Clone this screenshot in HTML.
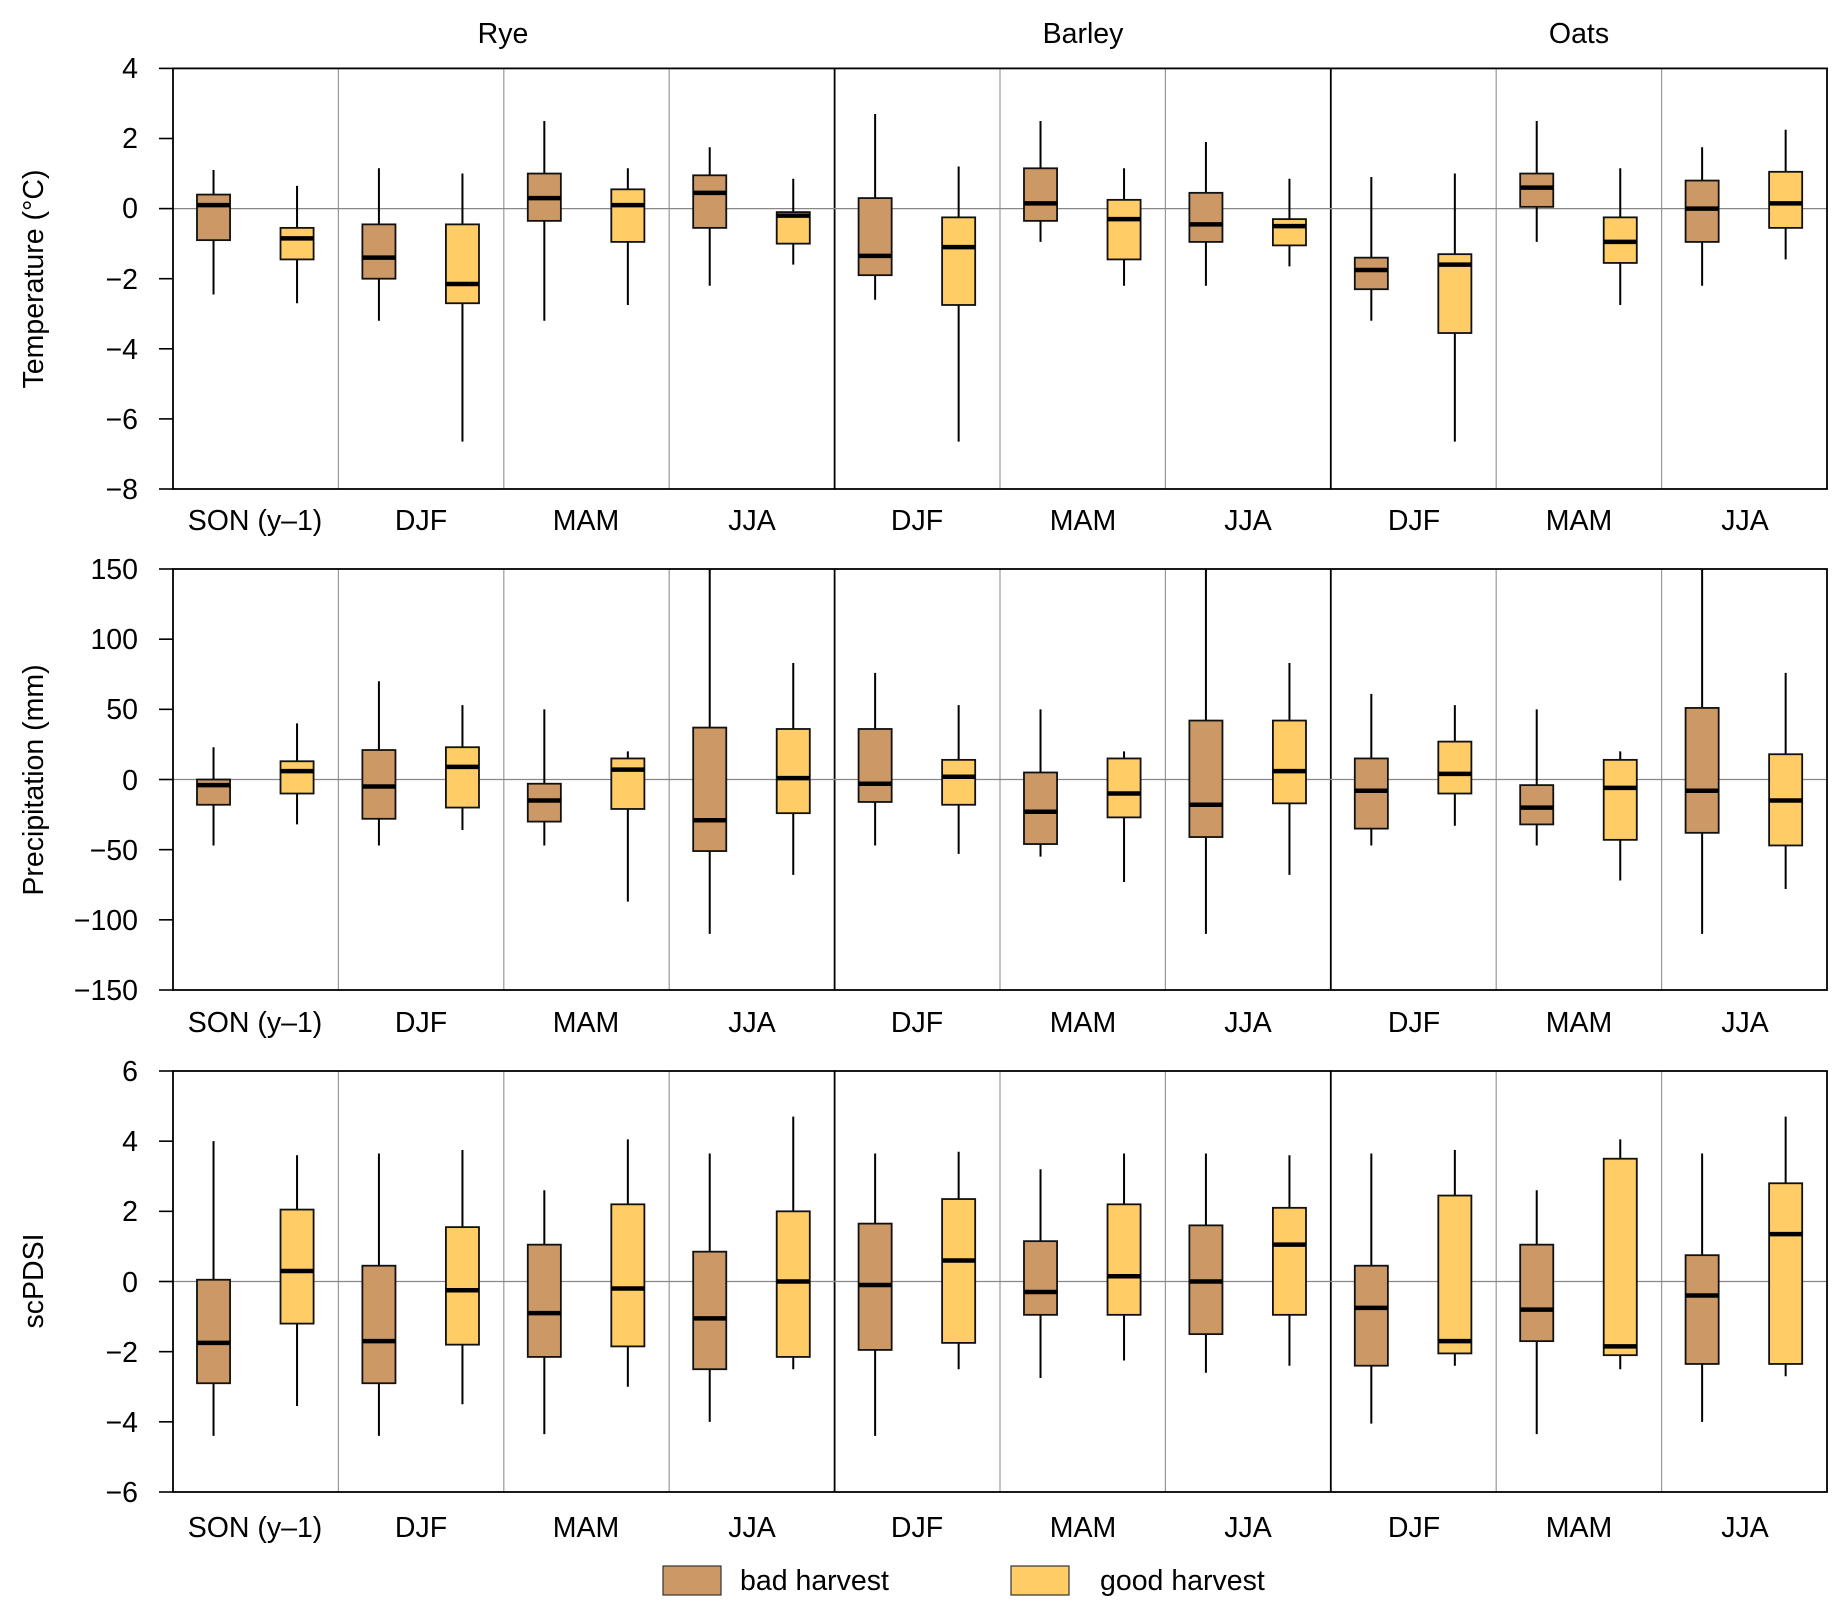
<!DOCTYPE html>
<html><head><meta charset="utf-8"><style>
html,body{margin:0;padding:0;background:#fff;}
svg text{font-family:"Liberation Sans",sans-serif;font-size:28.5px;fill:#000;}
</style></head><body>
<svg id="s" width="1848" height="1616" viewBox="0 0 1848 1616" xmlns="http://www.w3.org/2000/svg">
<g id="g"></g>
<text x="503" y="43" text-anchor="middle">Rye</text>
<text x="1083" y="43" text-anchor="middle">Barley</text>
<text x="1579" y="43" text-anchor="middle">Oats</text>
<g text-anchor="end">
<text x="138" y="78">4</text><text x="138" y="148">2</text><text x="138" y="218">0</text><text x="138" y="289">−2</text><text x="138" y="359">−4</text><text x="138" y="429">−6</text><text x="138" y="499">−8</text>
<text x="138" y="579">150</text><text x="138" y="649">100</text><text x="138" y="719">50</text><text x="138" y="790">0</text><text x="138" y="860">−50</text><text x="138" y="930">−100</text><text x="138" y="1000">−150</text>
<text x="138" y="1081">6</text><text x="138" y="1151">4</text><text x="138" y="1221">2</text><text x="138" y="1292">0</text><text x="138" y="1362">−2</text><text x="138" y="1432">−4</text><text x="138" y="1502">−6</text>
</g>
<text transform="translate(43,279) rotate(-90)" text-anchor="middle" font-size="30">Temperature (°C)</text>
<text transform="translate(43,780) rotate(-90)" text-anchor="middle" font-size="30">Precipitation (mm)</text>
<text transform="translate(43,1281) rotate(-90)" text-anchor="middle" font-size="30">scPDSI</text>
<g text-anchor="middle">
<text x="255" y="530">SON (y–1)</text><text x="421" y="530">DJF</text><text x="586" y="530">MAM</text><text x="752" y="530">JJA</text><text x="917" y="530">DJF</text><text x="1083" y="530">MAM</text><text x="1248" y="530">JJA</text><text x="1414" y="530">DJF</text><text x="1579" y="530">MAM</text><text x="1745" y="530">JJA</text>
<text x="255" y="1032">SON (y–1)</text><text x="421" y="1032">DJF</text><text x="586" y="1032">MAM</text><text x="752" y="1032">JJA</text><text x="917" y="1032">DJF</text><text x="1083" y="1032">MAM</text><text x="1248" y="1032">JJA</text><text x="1414" y="1032">DJF</text><text x="1579" y="1032">MAM</text><text x="1745" y="1032">JJA</text>
<text x="255" y="1537">SON (y–1)</text><text x="421" y="1537">DJF</text><text x="586" y="1537">MAM</text><text x="752" y="1537">JJA</text><text x="917" y="1537">DJF</text><text x="1083" y="1537">MAM</text><text x="1248" y="1537">JJA</text><text x="1414" y="1537">DJF</text><text x="1579" y="1537">MAM</text><text x="1745" y="1537">JJA</text>
</g>
<rect x="663" y="1566" width="58" height="29" fill="#cc9966" stroke="#333" stroke-width="1.2"/>
<text x="740" y="1590">bad harvest</text>
<rect x="1011" y="1566" width="58" height="29" fill="#ffcc66" stroke="#333" stroke-width="1.2"/>
<text x="1100" y="1590">good harvest</text>
</svg>
<script>
var g=document.getElementById('g'),NS='http://www.w3.org/2000/svg';
function el(t,a){var e=document.createElementNS(NS,t);for(var k in a)e.setAttribute(k,a[k]);g.appendChild(e);return e;}
var L=173,R=1827,W=(R-L)/10;
var panels=[
{top:68.4,bot:489,max:4,min:-8,ticks:[4,2,0,-2,-4,-6,-8],d:[
[[1.1,0.4,0.1,-0.9,-2.45],[0.65,-0.55,-0.85,-1.45,-2.7]],
[[1.15,-0.45,-1.4,-2.0,-3.2],[1.0,-0.45,-2.15,-2.7,-6.65]],
[[2.5,1.0,0.3,-0.35,-3.2],[1.15,0.55,0.1,-0.95,-2.75]],
[[1.75,0.95,0.45,-0.55,-2.2],[0.85,-0.1,-0.2,-1.0,-1.6]],
[[2.7,0.3,-1.35,-1.9,-2.6],[1.2,-0.25,-1.1,-2.75,-6.65]],
[[2.5,1.15,0.15,-0.35,-0.95],[1.15,0.25,-0.3,-1.45,-2.2]],
[[1.9,0.45,-0.45,-0.95,-2.2],[0.85,-0.3,-0.5,-1.05,-1.65]],
[[0.9,-1.4,-1.75,-2.3,-3.2],[1.0,-1.3,-1.6,-3.55,-6.65]],
[[2.5,1.0,0.6,0.05,-0.95],[1.15,-0.25,-0.95,-1.55,-2.75]],
[[1.75,0.8,0.0,-0.95,-2.2],[2.25,1.05,0.15,-0.55,-1.45]]]},
{top:569,bot:990,max:150,min:-150,ticks:[150,100,50,0,-50,-100,-150],d:[
[[23,0,-4,-18,-47],[40,13,6,-10,-32]],
[[70,21,-5,-28,-47],[53,23,9,-20,-36]],
[[50,-3,-15,-30,-47],[20,15,7,-21,-87]],
[[150,37,-29,-51,-110],[83,36,1,-24,-68]],
[[76,36,-3,-16,-47],[53,14,2,-18,-53]],
[[50,5,-23,-46,-55],[20,15,-10,-27,-73]],
[[150,42,-18,-41,-110],[83,42,6,-17,-68]],
[[61,15,-8,-35,-47],[53,27,4,-10,-33]],
[[50,-4,-20,-32,-47],[20,14,-6,-43,-72]],
[[150,51,-8,-38,-110],[76,18,-15,-47,-78]]]},
{top:1071,bot:1492,max:6,min:-6,ticks:[6,4,2,0,-2,-4,-6],d:[
[[4.0,0.05,-1.75,-2.9,-4.4],[3.6,2.05,0.3,-1.2,-3.55]],
[[3.65,0.45,-1.7,-2.9,-4.4],[3.75,1.55,-0.25,-1.8,-3.5]],
[[2.6,1.05,-0.9,-2.15,-4.35],[4.05,2.2,-0.2,-1.85,-3.0]],
[[3.65,0.85,-1.05,-2.5,-4.0],[4.7,2.0,0.0,-2.15,-2.5]],
[[3.65,1.65,-0.1,-1.95,-4.4],[3.7,2.35,0.6,-1.75,-2.5]],
[[3.2,1.15,-0.3,-0.95,-2.75],[3.65,2.2,0.15,-0.95,-2.25]],
[[3.65,1.6,0.0,-1.5,-2.6],[3.6,2.1,1.05,-0.95,-2.4]],
[[3.65,0.45,-0.75,-2.4,-4.05],[3.75,2.45,-1.7,-2.05,-2.4]],
[[2.6,1.05,-0.8,-1.7,-4.35],[4.05,3.5,-1.85,-2.1,-2.5]],
[[3.65,0.75,-0.4,-2.35,-4.0],[4.7,2.8,1.35,-2.35,-2.7]]]}];
panels.forEach(function(p){
  var Y=function(v){return p.top+(p.max-v)/(p.max-p.min)*(p.bot-p.top);};
  for(var i=1;i<10;i++){var x=L+i*W;var blk=(i==4||i==7);
    el('line',{x1:x,x2:x,y1:p.top,y2:p.bot,stroke:blk?'#000':'#999','stroke-width':blk?1.8:1.2});}
  el('line',{x1:L,x2:R,y1:Y(0),y2:Y(0),stroke:'#888','stroke-width':1.3});
  p.ticks.forEach(function(t){el('line',{x1:L-14,x2:L,y1:Y(t),y2:Y(t),stroke:'#000','stroke-width':1.6});});
  p.d.forEach(function(c,i){
    c.forEach(function(b,j){
      var cx=L+i*W+W*(j==0?0.245:0.75),bw=W*0.2;
      el('line',{x1:cx,x2:cx,y1:Y(b[0]),y2:Y(b[4]),stroke:'#000','stroke-width':2});
      el('rect',{x:cx-bw/2,y:Y(b[1]),width:bw,height:Y(b[3])-Y(b[1]),fill:j==0?'#cc9966':'#ffcc66',stroke:'#111','stroke-width':1.8});
      el('line',{x1:cx-bw/2,x2:cx+bw/2,y1:Y(b[2]),y2:Y(b[2]),stroke:'#000','stroke-width':4.5});
    });
  });
  el('rect',{x:L,y:p.top,width:R-L,height:p.bot-p.top,fill:'none',stroke:'#000','stroke-width':1.8});
});
</script>
</body></html>
